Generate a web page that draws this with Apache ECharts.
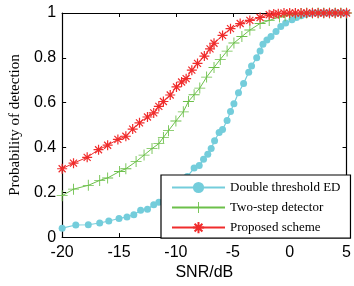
<!DOCTYPE html>
<html><head><meta charset="utf-8">
<script src="https://cdn.jsdelivr.net/npm/echarts@6/dist/echarts.min.js"></script>
<style>html,body{margin:0;padding:0;background:#fff}#c{width:354px;height:286px}</style>
</head><body><div id="c"></div>
<script>
var seriesNames = ['Double threshold ED', 'Two-step detector', 'Proposed scheme'];
var xTicks = [-20, -15, -10, -5, 0, 5];
var yTicks = [0, 0.2, 0.4, 0.6, 0.8, 1];

var edSnr = [-20,-18.8,-17.7,-16.7,-15.9,-15.0,-14.3,-13.7,-13.1,-12.5,-11.95,-11.5,-11.0,-10.5,-10.0,-9.5,-9.0,-8.4,-7.95,-7.57,-7.2,-6.9,-6.6,-6.2,-5.9,-5.5,-5.2,-4.9,-4.5,-4.05,-3.6,-3.35,-2.9,-2.6,-2.35,-2.0,-1.64,-1.2,-0.78,-0.35,0.2,0.6,1.0,1.4,1.8,2.2,2.6,3.0,3.4,3.8,4.2,4.6,5];
var edPd  = [0.04,0.054,0.055,0.063,0.072,0.083,0.09,0.10,0.12,0.124,0.144,0.156,0.17,0.19,0.21,0.24,0.27,0.308,0.32,0.347,0.37,0.395,0.43,0.467,0.48,0.52,0.56,0.595,0.644,0.685,0.736,0.764,0.80,0.83,0.86,0.88,0.895,0.917,0.94,0.955,0.97,0.98,0.988,0.994,0.998,1,1,1,1,1,1,1,1];

var tsSnr = [-20,-19,-17.7,-16.7,-16,-14.95,-14.4,-13.5,-12.8,-12.1,-11.5,-11.1,-10.65,-10.0,-9.35,-8.9,-8.4,-7.9,-7.3,-6.65,-6.1,-5.5,-4.9,-4.2,-3.5,-2.6,-1.8,-0.9,-0.4,0,0.5,1,1.5,2,2.5,3,3.5,4,4.5,5];
var tsPd  = [0.185,0.214,0.231,0.253,0.264,0.293,0.305,0.337,0.366,0.395,0.417,0.445,0.475,0.518,0.559,0.605,0.635,0.665,0.714,0.757,0.793,0.83,0.866,0.895,0.924,0.953,0.967,0.982,0.988,0.992,0.996,0.998,1,1,1,1,1,1,1,1];

var psSnr = [-20,-19,-17.8,-16.8,-16,-15.1,-14.4,-13.8,-13.2,-12.5,-11.95,-11.5,-11.1,-10.5,-9.95,-9.5,-9.1,-8.6,-8.1,-7.5,-7.0,-6.65,-5.9,-5.2,-4.35,-3.5,-2.6,-1.8,-1.4,-1,-0.5,0,0.5,1,1.5,2,2.5,3,3.5,4,4.5,5];
var psPd  = [0.305,0.33,0.356,0.39,0.41,0.436,0.45,0.482,0.51,0.536,0.554,0.583,0.605,0.634,0.67,0.692,0.707,0.745,0.775,0.808,0.84,0.865,0.90,0.93,0.953,0.967,0.98,0.992,0.995,0.997,1,1,1,1,1,1,1,1,1,1,1,1];

function pairs(xs, ys){ return xs.map(function(x,i){ return [x, ys[i]]; }); }

var chart = echarts.init(document.getElementById('c'), null, {renderer:'canvas'});
var sans = '"Liberation Sans", Arial, sans-serif';
var serif = '"Liberation Serif", "Times New Roman", serif';
var axisCommon = {
  axisLine:{show:true, onZero:false, lineStyle:{color:'#000', width:1.2}},
  axisTick:{show:true, inside:true, length:4, lineStyle:{color:'#000'}},
  splitLine:{show:false}
};
chart.setOption({
  animation:false,
  backgroundColor:'#fff',
  grid:{left:58, right:6, top:13, bottom:44, containLabel:false},
  xAxis:[
    Object.assign({type:'value', min:-20, max:5, interval:5, position:'bottom',
      name:'SNR/dB', nameLocation:'middle', nameGap:24,
      nameTextStyle:{fontFamily:sans, fontSize:16, color:'#000'},
      axisLabel:{fontFamily:sans, fontSize:16, color:'#000', margin:7,
        formatter:function(v){ return xTicks.indexOf(v) >= 0 ? String(v) : ''; }}}, axisCommon),
    Object.assign({type:'value', min:-20, max:5, interval:5, position:'top',
      axisLabel:{show:false}}, axisCommon)
  ],
  yAxis:[
    Object.assign({type:'value', min:0, max:1, interval:0.2, position:'left',
      name:'Probability of detection', nameLocation:'middle', nameGap:32,
      nameTextStyle:{fontFamily:serif, fontSize:15, color:'#000'},
      axisLabel:{fontFamily:sans, fontSize:16, color:'#000', margin:6,
        formatter:function(v){ var t = yTicks.find(function(k){return Math.abs(k-v)<1e-9;}); return t===undefined?'':String(t); }}}, axisCommon),
    Object.assign({type:'value', min:0, max:1, interval:0.2, position:'right',
      axisLabel:{show:false}}, axisCommon)
  ],
  legend:{
    orient:'vertical', left:161, top:175,
    padding:[6,10,4,10], itemGap:7, itemWidth:53, itemHeight:14,
    backgroundColor:'#fff', borderColor:'#000', borderWidth:1.2, borderRadius:0,
    textStyle:{fontFamily:serif, fontSize:13, color:'#000'},
    data:seriesNames
  },
  series:[
    {name:seriesNames[0], type:'line', data:pairs(edSnr, edPd),
     symbol:'circle', symbolSize:7, showSymbol:true,
     lineStyle:{color:'#74cddb', width:1.2}, itemStyle:{color:'#74cddb'}},
    {name:seriesNames[1], type:'line', data:pairs(tsSnr, tsPd),
     symbol:'path://M4.6,0H5.4V4.6H10V5.4H5.4V10H4.6V5.4H0V4.6H4.6Z', symbolSize:11, showSymbol:true,
     lineStyle:{color:'#6cc04a', width:1}, itemStyle:{color:'#6cc04a'}},
    {name:seriesNames[2], type:'line', data:pairs(psSnr, psPd),
     symbol:'path://M5,0L5,10M0,5L10,5M1.5,1.5L8.5,8.5M8.5,1.5L1.5,8.5', symbolSize:10, showSymbol:true,
     lineStyle:{color:'#f02c2c', width:1}, itemStyle:{color:'rgba(0,0,0,0)', borderColor:'#f02c2c', borderWidth:1.2}}
  ]
});
</script></body></html>
